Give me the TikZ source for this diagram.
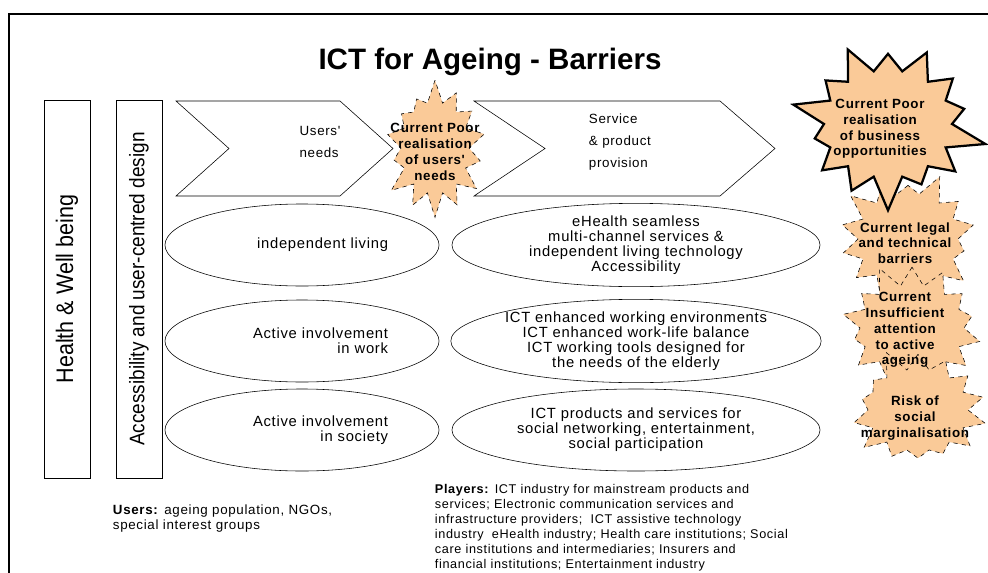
\documentclass[tikz,border=0pt]{standalone}
\usepackage{fontspec}
\setmainfont{Liberation Sans}
\newfontfamily\spacedfont[LetterSpace=5]{Liberation Sans}
\newfontfamily\narrowfont[FakeStretch=0.9]{Liberation Sans}
\usetikzlibrary{shapes.geometric,shapes.symbols}
\definecolor{burstfill}{RGB}{250,202,152}
\newcommand{\goalsize}{\spacedfont\fontsize{10.5}{10.7}\selectfont}
\newcommand{\chainsize}{\spacedfont\fontsize{9.5}{15.6}\selectfont}
\newcommand{\actorsize}{\spacedfont\fontsize{9}{10.7}\selectfont}
\newcommand{\burstsize}{\spacedfont\fontsize{9.5}{11.2}\selectfont\bfseries}

\begin{document}
\begin{tikzpicture}[x=0.025cm,y=-0.025cm,
    goal/.style={draw,ellipse,inner sep=0pt,minimum height=2.05cm,align=center,font=\goalsize},
    pillar/.style={draw,rotate=90,minimum width=9.45cm,minimum height=1.15cm,inner sep=0pt},
    barrier/.style={starburst,starburst points=14,starburst point height=0.6cm,draw,fill=burstfill,
      dashed,inner sep=0pt},
    btext/.style={align=center,font=\burstsize,inner sep=0pt}]
  \useasboundingbox (0,0) rectangle (988,573);
  % frame
  \draw[line width=2pt] (9,573) -- (9,14) -- (988,14);
  % title
  \node[font=\fontsize{21}{25}\selectfont\bfseries] (title) at (490,62) {ICT for Ageing - Barriers};
  % pillars
  \node[pillar,font=\narrowfont\fontsize{17}{20}\selectfont] (health) at (67,289) {Health \& Well being};
  \node[pillar,font=\narrowfont\fontsize{15}{18}\selectfont] (access) at (139,289) {Accessibility and user-centred design};
  % value chain
  \draw (176,101) -- (340,101) -- (393,148.5) -- (340,196) -- (176,196) -- (229,148.5) -- cycle;
  \node[align=left,font=\chainsize] (needs) at (320,142) {Users'\\needs};
  \node[barrier,random starburst=7,minimum width=2.9cm,minimum height=3.5cm] (poorusers) at (435,148) {};
  \node[btext] (poorusers text) at (435,152) {Current Poor\\realisation\\of users'\\needs};
  \draw (474,101) -- (720,101) -- (775,148.5) -- (720,196) -- (474,196) -- (545,148.5) -- cycle;
  \node[align=left,font=\chainsize,anchor=west] (provision) at (584,142) {Service\\\& product\\provision};
  % users' goals
  \node[goal,minimum width=6.85cm,text width=4.3cm,align=right] (living) at (302,245) {independent living};
  \node[goal,minimum width=6.85cm,text width=4.3cm,align=right] (work) at (302,341) {Active involvement\\in work};
  \node[goal,minimum width=6.85cm,text width=4.3cm,align=right] (society) at (302,430) {Active involvement\\in society};
  % services
  \node[goal,minimum width=9.2cm] (ehealth) at (636,245)
    {eHealth seamless\\multi-channel services \&\\independent living technology\\Accessibility};
  \node[goal,minimum width=9.2cm] (workenv) at (636,341)
    {ICT enhanced working environments\\ICT enhanced work-life balance\\ICT working tools designed for\\the needs of the elderly};
  \node[goal,minimum width=9.2cm] (social) at (636,430)
    {ICT products and services for\\social networking, entertainment,\\social participation};
  % barriers on the right
  \node[barrier,random starburst=3,minimum width=3.7cm,minimum height=3.5cm] (legal) at (908,239) {};
  \node[barrier,random starburst=11,minimum width=3.8cm,minimum height=3.35cm] (attention) at (912,328) {};
  \node[barrier,random starburst=5,minimum width=3.7cm,minimum height=3.25cm] (risk) at (918,410) {};
  \node[barrier,solid,line width=1.6pt,starburst point height=0.9cm,random starburst=9,
    minimum width=5cm,minimum height=4.5cm] (business) at (888,124) {};
  \node[btext] (legal text) at (905,243) {Current legal\\and technical\\barriers};
  \node[btext] (attention text) at (905,330) {Current\\Insufficient\\attention\\to active\\ageing};
  \node[btext] (risk text) at (915,418) {Risk of\\social\\marginalisation};
  \node[btext] (business text) at (880,129) {Current Poor\\realisation\\of business\\opportunities};
  % actors
  \node[anchor=north west,align=left,font=\spacedfont\fontsize{9.5}{10.7}\selectfont] (users) at (108,500)
    {\textbf{Users:} ageing population, NGOs,\\special interest groups};
  \node[anchor=north west,align=left,font=\actorsize] (players) at (430,479)
    {\textbf{Players:} ICT industry for mainstream products and\\
     services; Electronic communication services and\\
     infrastructure providers;\ \ ICT assistive technology\\
     industry\ \ eHealth industry; Health care institutions; Social\\
     care institutions and intermediaries; Insurers and\\
     financial institutions; Entertainment industry};
\end{tikzpicture}
\end{document}
